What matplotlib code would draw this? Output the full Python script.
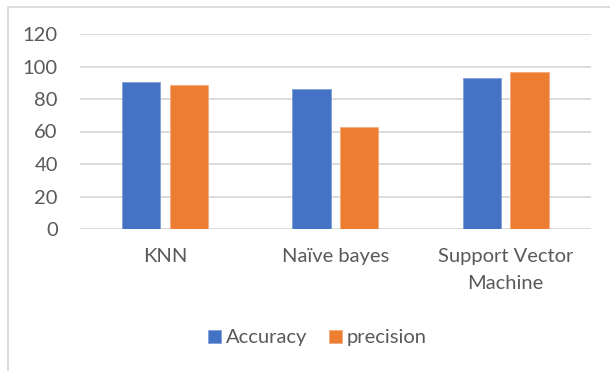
import matplotlib
matplotlib.use("Agg")
from matplotlib import pyplot as plt
from matplotlib.patches import Rectangle
import numpy as np

plt.rcParams['font.family'] = ['Lato', 'DejaVu Sans']

categories = ['KNN', 'Naïve bayes', 'Support Vector\nMachine']
accuracy = [90.3, 86.2, 92.9]
precision = [88.8, 62.8, 96.6]
yticks = [0, 20, 40, 60, 80, 100, 120]

blue = '#4472C4'
orange = '#ED7D31'
txt = '#595959'
grid = '#d9d9d9'

fig = plt.figure(figsize=(6.1, 3.71), dpi=100)
ax = fig.add_axes([80 / 610, 1 - 229 / 371, 510.7 / 610, 195 / 371])

# chart border (cut off at right / bottom like the screenshot)
fig.patches.append(Rectangle((8 / 610, -0.1), 1.2, (371 - 6.5) / 371 + 0.1,
                             transform=fig.transFigure, fill=False,
                             edgecolor=grid, linewidth=1.3))

x = np.arange(len(categories))
w = 0.225
ax.bar(x - 0.14, accuracy, w, color=blue, edgecolor='#7f9fd8', linewidth=0.6,
       label='Accuracy', zorder=3)
ax.bar(x + 0.14, precision, w, color=orange, edgecolor='#f4ab7c', linewidth=0.6,
       label='precision', zorder=3)

ax.set_xlim(-0.5, 2.5)
ax.set_ylim(0, 120)
ax.set_yticks(yticks)
ax.set_xticks(x)
ax.set_xticklabels(categories, linespacing=1.65)
for s in ax.spines.values():
    s.set_visible(False)
ax.yaxis.grid(True, color=grid, linewidth=1.3, zorder=0)
ax.set_axisbelow(True)
ax.tick_params(axis='both', length=0, labelsize=14.5, labelcolor=txt)
ax.tick_params(axis='y', pad=16)
ax.tick_params(axis='x', pad=14)

fig.legend(loc='center', bbox_to_anchor=(317.5 / 610, 1 - 338 / 371),
           ncol=2, frameon=False, fontsize=14.5, labelcolor=txt,
           handlelength=0.62, handleheight=0.62, handletextpad=0.25,
           columnspacing=1.1)

fig.savefig('out.png', dpi=100)
